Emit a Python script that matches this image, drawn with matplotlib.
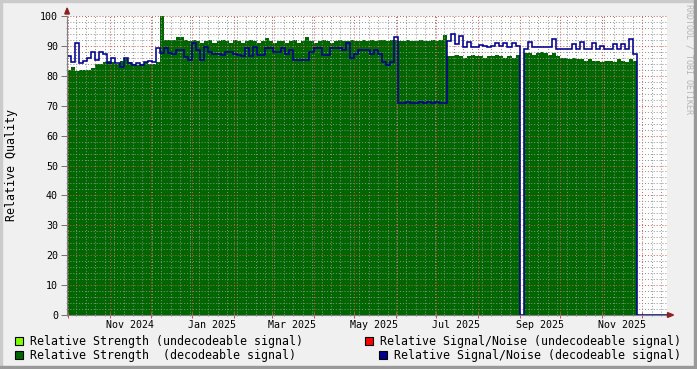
import matplotlib
matplotlib.use('Agg')
import matplotlib.pyplot as plt
import matplotlib.dates as mdates
import matplotlib.ticker as mticker
import matplotlib.transforms as mtrans
from matplotlib.patches import Rectangle, Polygon
import pandas as pd

# samples every 3 days starting 2024-09-30
start = '2024-09-30'
step = '3D'

strength_dec = [
    82, 83, 81.5, 82, 82, 82, 82.5,
    84, 84, 84.5, 85, 84.5, 84, 85, 85.5, 84.5, 84, 83.5, 84, 84.5, 84, 84, 84.5,
    100,
    92, 92, 92, 93, 93, 92, 91.5, 92, 91.5, 91,
    91.5, 92, 91, 91.5, 92, 91.5, 91, 92, 91.5, 91,
    91.5, 92, 91.5, 91, 91.5, 92.5, 91.5, 91, 91.5, 91.5,
    91, 91.5, 92, 91, 91.5, 93, 91.5, 91, 91.5, 92,
    91.5, 91, 91.5, 92, 91.5, 91.5, 92, 91.5, 91.5, 92,
    91.5, 92, 91.5, 92, 92, 91.5, 92, 92, 91.5, 91.5,
    92, 91.5, 91.5, 92, 91.5, 91.5, 92, 91.5, 92, 93.5,
    86.5, 86.5, 87, 86.5, 86, 86.5, 87, 86.5, 86.5, 86, 86.5, 86.5, 87, 86.5, 86, 86.5, 86, 87,
    0,
    87.5, 87.5, 87, 87.5, 88, 87.5, 87, 87.5, 86.5, 86, 86, 85.5, 86, 85.5,
    85.5, 85, 85.5, 85, 85, 84.5, 85, 85, 84.5, 85.5, 85, 84.5, 85.5, 85,
    0, 0, 0, 0, 0, 0, 0, 0,
]

snr_dec = [
    86.5, 84.7, 91, 84.2, 85, 85.8, 88, 85.2, 88, 87.4, 84.2, 85.8, 84.2,
    83, 86, 84.2, 83.5, 84.2, 83.5, 84.5, 85, 84.5, 89.2, 87.5, 89.2, 87.5,
    87.4, 88.6, 88.6, 86.4, 85.3, 91, 88.6, 85.3, 89.7, 88, 87.4, 87.4, 86.9, 88,
    88, 87.4, 87, 86.5, 89.2, 86.5, 89.7, 86.9, 86.9, 89.2, 89.2, 88, 88, 89.2,
    87.4, 88.6, 85.3, 85.3, 85.3, 85.3, 88, 89.2, 89.2, 86.9, 86.9, 89.2, 89.2,
    89.2, 88.6, 90.9, 85.8, 87.4, 88.6, 88.6, 88.6, 87.4, 88.6, 87.4, 84.7, 83.6,
    84.7, 93,
    70.8, 70.8, 71.3, 70.8, 70.8, 71.3, 70.8, 71.3, 70.8, 71.3, 70.8, 70.8,
    91.5, 94, 90.5, 93.4, 89.7, 91.4, 89.7, 89.7, 90.3, 90, 89.5, 90, 90.9, 90,
    90.9, 89.5, 90.9, 90,
    0,
    89, 91.3, 89.7, 89.7, 89.7, 89.7, 89.7, 92.2, 88.9, 88.9, 88.9, 88.9, 90.8,
    88.9, 91.3, 88.9, 88.9, 90.9, 88.9, 90, 88.9, 88.9, 90.5, 88.9, 90.8, 88.9,
    92.2, 87.4,
    0, 0, 0, 0, 0, 0, 0, 0,
]

x_start = '2024-09-30'
x_end = '2025-12-19 10:00'
label_dates = ['2024-11-16', '2025-01-16', '2025-03-16', '2025-05-16',
               '2025-07-16', '2025-09-16', '2025-11-16']
label_text = ['Nov 2024', 'Jan 2025', 'Mar 2025', 'May 2025',
              'Jul 2025', 'Sep 2025', 'Nov 2025']

legend_items = [
    ('Relative Strength (undecodeable signal)', '#80FF00'),
    ('Relative Signal/Noise (undecodeable signal)', '#FF0000'),
    ('Relative Strength  (decodeable signal)', '#006600'),
    ('Relative Signal/Noise (decodeable signal)', '#00008F'),
]

W, H = 697, 369
MONO = 'DejaVu Sans Mono'
fig = plt.figure(figsize=(W / 100, H / 100), dpi=100, facecolor='#F0F0F0')


def fx(px):
    return px / W


def fy(py):
    return 1 - py / H


ax = fig.add_axes([fx(67), fy(315), 600 / W, 299 / H])
ax.set_facecolor('white')

edges = mdates.date2num(pd.date_range(start, periods=len(strength_dec) + 1, freq=step))
ax.stairs(strength_dec, edges, fill=True, color='#006600', linewidth=0, zorder=2)
ax.stairs(snr_dec, edges, baseline=None, color='#00008F', linewidth=1.15, zorder=4)

ax.set_xlim(mdates.date2num(pd.Timestamp(x_start)), mdates.date2num(pd.Timestamp(x_end)))
ax.set_ylim(0, 100)

ax.xaxis.set_major_locator(mdates.MonthLocator())
ax.xaxis.set_minor_locator(mdates.WeekdayLocator(byweekday=mdates.MO))
ax.yaxis.set_major_locator(mticker.MultipleLocator(10))
ax.yaxis.set_minor_locator(mticker.MultipleLocator(2))

ax.grid(which='minor', color=(0.56, 0.56, 0.56, 0.28), linestyle=(0, (1, 2)), linewidth=0.7, zorder=3)
ax.grid(which='major', color=(0.87, 0.32, 0.32, 0.38), linestyle=(0, (1, 2)), linewidth=0.7, zorder=3)
ax.set_axisbelow(False)

ax.tick_params(axis='x', which='both', labelbottom=False, direction='inout')
ax.tick_params(axis='x', which='major', length=5, width=0.7, color='#C05050')
ax.tick_params(axis='x', which='minor', length=2, width=0.7, color='#A0A0A0')
ax.tick_params(axis='y', which='major', length=4, width=0.7, color='#707070', direction='out',
               pad=2.5, labelsize=7.2)
ax.tick_params(axis='y', which='minor', length=2, width=0.7, color='#A0A0A0', direction='inout')
for lab in ax.get_yticklabels():
    lab.set_family(MONO)
ax.yaxis.set_major_formatter(mticker.FormatStrFormatter('%d'))

for s in ['top', 'right']:
    ax.spines[s].set_visible(False)
for s in ['left', 'bottom']:
    ax.spines[s].set_color('#808080')
    ax.spines[s].set_linewidth(0.8)
    ax.spines[s].set_zorder(5)

trans = mtrans.blended_transform_factory(ax.transData, ax.transAxes)
for d, t in zip(label_dates, label_text):
    ax.text(mdates.date2num(pd.Timestamp(d)), -9.5 / 299, t, transform=trans,
            ha='center', va='center', family=MONO, size=7.2)

# axis arrows
arrow_col = '#8E1F1F'
fig.add_artist(Polygon([(fx(64.8), fy(14)), (fx(69.4), fy(14)), (fx(67.1), fy(8))],
                       closed=True, color=arrow_col, transform=fig.transFigure))
fig.add_artist(Polygon([(fx(667.5), fy(312.6)), (fx(667.5), fy(317.4)), (fx(673.5), fy(315))],
                       closed=True, color=arrow_col, transform=fig.transFigure))

fig.text(fx(12), fy(165), 'Relative Quality', rotation=90, ha='center', va='center',
         family=MONO, size=8.35)
fig.text(fx(688.5), fy(4), 'RRDTOOL / TOBI OETIKER', rotation=270, ha='center', va='top',
         family=MONO, size=6, color='#B4B4B4')

# legend
box_pos = [(15, 337, 30), (365, 337, 380), (15, 351, 30), (379, 351, 394)]
for (label, col), (bx, by, tx) in zip(legend_items, box_pos):
    fig.add_artist(Rectangle((fx(bx), fy(by + 8)), 8 / W, 8 / H, facecolor=col,
                             edgecolor='black', linewidth=0.8, transform=fig.transFigure))
    fig.text(fx(tx), fy(by + 4.3), label, ha='left', va='center', family=MONO, size=8.35)

# 3d frame
fig.add_artist(Rectangle((0, fy(2)), 1, 2 / H, color='#CBCBCB', transform=fig.transFigure))
fig.add_artist(Rectangle((0, 0), 2 / W, 1, color='#CBCBCB', transform=fig.transFigure))
fig.add_artist(Rectangle((0, 0), 1, 3 / H, color='#999999', transform=fig.transFigure))
fig.add_artist(Rectangle((1 - 3 / W, 0), 3 / W, 1, color='#999999', transform=fig.transFigure))

fig.savefig('out.png', dpi=100, facecolor=fig.get_facecolor())
